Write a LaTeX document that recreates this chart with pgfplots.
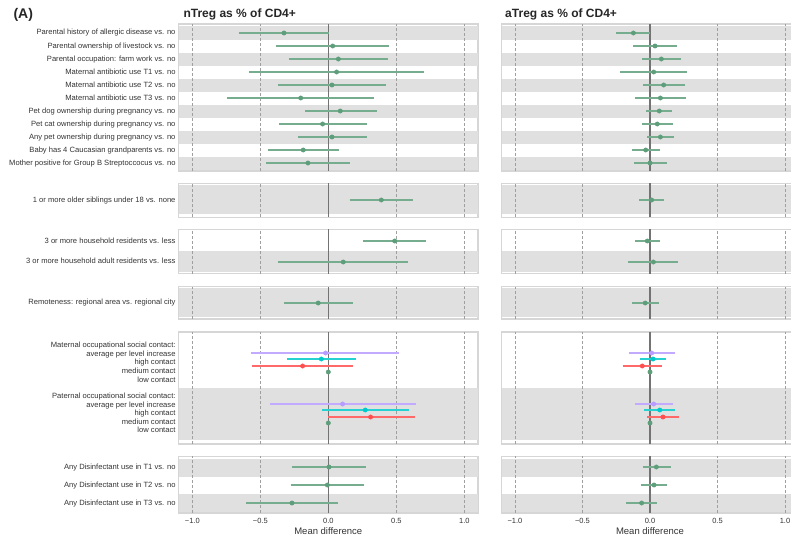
\documentclass[border=0pt]{standalone}
\usepackage{fontspec}
\setmainfont{Liberation Sans}
\usepackage{pgfplots}
\pgfplotsset{compat=1.18}
\usepackage{pgfplotstable}

\definecolor{cgreen}{RGB}{94,158,122}
\definecolor{cpurple}{RGB}{183,155,255}
\definecolor{ccyan}{RGB}{0,201,201}
\definecolor{cred}{RGB}{255,78,78}
\definecolor{bandgray}{RGB}{224,224,224}
\definecolor{framegray}{RGB}{214,214,214}
\definecolor{txt}{RGB}{51,51,51}

% columns: y (pixel row), est, lo, hi
\pgfplotstableread{
y est lo hi
33 -0.326 -0.660 0.007
46 0.032 -0.385 0.444
59 0.074 -0.292 0.436
72 0.061 -0.580 0.700
85 0.027 -0.368 0.424
98 -0.203 -0.743 0.333
111 0.088 -0.169 0.355
124 -0.042 -0.360 0.282
137 0.027 -0.225 0.282
150 -0.184 -0.441 0.076
163 -0.150 -0.456 0.159
}\tLone
\pgfplotstableread{
y est lo hi
33 -0.123 -0.252 0.000
46 0.037 -0.123 0.198
59 0.084 -0.057 0.227
72 0.027 -0.222 0.274
85 0.101 -0.052 0.257
98 0.077 -0.114 0.264
111 0.069 -0.027 0.165
124 0.054 -0.062 0.168
137 0.077 -0.022 0.178
150 -0.032 -0.133 0.072
163 0.000 -0.119 0.123
}\tRone
\pgfplotstableread{
y est lo hi
200 0.390 0.157 0.625
}\tLtwo
\pgfplotstableread{
y est lo hi
200 0.012 -0.079 0.104
}\tRtwo
\pgfplotstableread{
y est lo hi
241 0.488 0.252 0.720
262 0.110 -0.368 0.584
}\tLthree
\pgfplotstableread{
y est lo hi
241 -0.020 -0.111 0.072
262 0.025 -0.163 0.210
}\tRthree
\pgfplotstableread{
y est lo hi
303 -0.074 -0.326 0.179
}\tLfour
\pgfplotstableread{
y est lo hi
303 -0.035 -0.131 0.064
}\tRfour
% occupational social contact: avg (purple), high (cyan), medium (red), low = reference
\pgfplotstableread{
y est lo hi
353 -0.020 -0.566 0.517
404 0.105 -0.426 0.643
}\tLavg
\pgfplotstableread{
y est lo hi
359 -0.051 -0.304 0.203
410 0.272 -0.047 0.596
}\tLhigh
\pgfplotstableread{
y est lo hi
366 -0.189 -0.561 0.184
417 0.311 0.000 0.640
}\tLmed
\pgfplotstableread{
y est lo hi
353 0.012 -0.158 0.188
404 0.027 -0.114 0.168
}\tRavg
\pgfplotstableread{
y est lo hi
359 0.022 -0.074 0.121
410 0.072 -0.042 0.188
}\tRhigh
\pgfplotstableread{
y est lo hi
366 -0.057 -0.202 0.089
417 0.096 -0.022 0.212
}\tRmed
\pgfplotstableread{
y est lo hi
372 0 0 0
423 0 0 0
}\tref
\pgfplotstableread{
y est lo hi
467 0.005 -0.267 0.275
485 -0.007 -0.277 0.265
503 -0.267 -0.605 0.071
}\tLsix
\pgfplotstableread{
y est lo hi
467 0.047 -0.052 0.153
485 0.030 -0.067 0.123
503 -0.062 -0.175 0.052
}\tRsix

\pgfplotsset{
  forest/.style={scale only axis, xmin=-1.1, xmax=1.1, y dir=reverse,
    axis line style={draw=framegray, line width=1.2pt},
    xtick=\empty, ytick=\empty, tick style={draw=none},
    yticklabel style={font=\fontsize{7.6}{8}\selectfont, text=txt, inner sep=0pt, xshift=-3pt,
      text height=5.5pt, text depth=1.5pt},
    xticklabel style={font=\fontsize{7.5}{8}\selectfont, text=txt, anchor=center, yshift=-8pt},
    xlabel style={font=\fontsize{9.5}{10}\selectfont, text=txt, at={(axis description cs:0.5,0)}, anchor=center, yshift=-18.3pt}},
  colL/.style={width=299.2pt},
  colR/.style={width=297pt},
  p1/.style={at={(#1,368pt)}, height=147pt, ymin=24, ymax=171},
  p2/.style={at={(#1,321.7pt)}, height=34pt, ymin=183.3, ymax=217.3},
  p3/.style={at={(#1,265.3pt)}, height=44.4pt, ymin=229.3, ymax=273.7},
  p4/.style={at={(#1,220pt)}, height=32.3pt, ymin=286.7, ymax=319},
  p5/.style={at={(#1,95pt)}, height=112pt, ymin=332, ymax=444},
  p6/.style={at={(#1,26pt)}, height=56.7pt, ymin=456.3, ymax=513,
    xtick={-1,-0.5,0,0.5,1}, xticklabels={−1.0,−0.5,0.0,0.5,1.0}, xlabel={Mean difference}},
}
\newcommand{\band}[2]{\fill[bandgray] (axis cs:-1.1,#1) rectangle (axis cs:1.1,#2);}
\newcommand{\refs}{%
  \draw[gray!75, densely dashed, line width=0.5pt] ({axis cs:-1,0}|-{rel axis cs:0,0}) -- ({axis cs:-1,0}|-{rel axis cs:0,1});
  \draw[gray!75, densely dashed, line width=0.5pt] ({axis cs:-0.5,0}|-{rel axis cs:0,0}) -- ({axis cs:-0.5,0}|-{rel axis cs:0,1});
  \draw[gray!75, densely dashed, line width=0.5pt] ({axis cs:0.5,0}|-{rel axis cs:0,0}) -- ({axis cs:0.5,0}|-{rel axis cs:0,1});
  \draw[gray!75, densely dashed, line width=0.5pt] ({axis cs:1,0}|-{rel axis cs:0,0}) -- ({axis cs:1,0}|-{rel axis cs:0,1});
  \draw[black!55, line width=1.5pt] ({axis cs:0,0}|-{rel axis cs:0,0}) -- ({axis cs:0,0}|-{rel axis cs:0,1});}
\newcommand{\bandsone}{\band{26.5}{39.5}\band{52.5}{65.5}\band{78.5}{91.5}\band{104.5}{117.5}\band{130.5}{143.5}\band{156.5}{169.5}}
% confidence interval as a segment lo..hi, estimate as a dot
\newcommand{\ci}[2]{%
  \addplot[draw=#1!85!white, line width=2pt, -, mark=none,
    quiver={u=\thisrow{hi}-\thisrow{lo}, v=0}] table[x=lo, y=y] {#2};
  \addplot[only marks, mark=*, mark size=2.2pt, draw=#1, fill=#1] table[x=est, y=y] {#2};}

\begin{document}
\begin{tikzpicture}
% ---- left column: nTreg
\begin{axis}[forest, colL, p1=178.7pt,
  ytick={33,46,59,72,85,98,111,124,137,150,163},
  yticklabels={Parental history of allergic disease vs. no,
    Parental ownership of livestock vs. no,
    Parental occupation: farm work vs. no,
    Maternal antibiotic use T1 vs. no,
    Maternal antibiotic use T2 vs. no,
    Maternal antibiotic use T3 vs. no,
    Pet dog ownership during pregnancy vs. no,
    Pet cat ownership during pregnancy vs. no,
    Any pet ownership during pregnancy vs. no,
    Baby has 4 Caucasian grandparents vs. no,
    Mother positive for Group B Streptoccocus vs. no}]
  \bandsone \refs
  \ci{cgreen}{\tLone}
\end{axis}
\begin{axis}[forest, colL, p2=178.7pt, ytick={200},
  yticklabels={1 or more older siblings under 18 vs. none}]
  \band{185}{214.3} \refs
  \ci{cgreen}{\tLtwo}
\end{axis}
\begin{axis}[forest, colL, p3=178.7pt, ytick={241,261.7},
  yticklabels={3 or more household residents vs. less,
    3 or more household adult residents vs. less}]
  \band{251}{271.7} \refs
  \ci{cgreen}{\tLthree}
\end{axis}
\begin{axis}[forest, colL, p4=178.7pt, ytick={302.7},
  yticklabels={Remoteness: regional area vs. regional city}]
  \band{288.3}{316.7} \refs
  \ci{cgreen}{\tLfour}
\end{axis}
\begin{axis}[forest, colL, p5=178.7pt,
  ytick={345.3,354.3,362.7,371.7,380,396.7,405.3,413.3,422,430.7},
  yticklabels={Maternal occupational social contact:, average per level increase,
    high contact, medium contact, low contact,
    Paternal occupational social contact:, average per level increase,
    high contact, medium contact, low contact}]
  \band{388}{440} \refs
  \ci{cpurple}{\tLavg}
  \ci{ccyan}{\tLhigh}
  \ci{cred}{\tLmed}
  \ci{cgreen}{\tref}
\end{axis}
\begin{axis}[forest, colL, p6=178.7pt, ytick={467,485,503},
  yticklabels={Any Disinfectant use in T1 vs. no,
    Any Disinfectant use in T2 vs. no,
    Any Disinfectant use in T3 vs. no}]
  \band{458.5}{476.5}\band{494}{512} \refs
  \ci{cgreen}{\tLsix}
\end{axis}
% ---- right column: aTreg
\begin{axis}[forest, colR, p1=501.5pt]
  \bandsone \refs
  \ci{cgreen}{\tRone}
\end{axis}
\begin{axis}[forest, colR, p2=501.5pt]
  \band{185}{214.3} \refs
  \ci{cgreen}{\tRtwo}
\end{axis}
\begin{axis}[forest, colR, p3=501.5pt]
  \band{251}{271.7} \refs
  \ci{cgreen}{\tRthree}
\end{axis}
\begin{axis}[forest, colR, p4=501.5pt]
  \band{288.3}{316.7} \refs
  \ci{cgreen}{\tRfour}
\end{axis}
\begin{axis}[forest, colR, p5=501.5pt]
  \band{388}{440} \refs
  \ci{cpurple}{\tRavg}
  \ci{ccyan}{\tRhigh}
  \ci{cred}{\tRmed}
  \ci{cgreen}{\tref}
\end{axis}
\begin{axis}[forest, colR, p6=501.5pt]
  \band{458.5}{476.5}\band{494}{512} \refs
  \ci{cgreen}{\tRsix}
\end{axis}
% titles
\node[anchor=base west, font=\fontsize{14}{15}\selectfont\bfseries, text=black!85] at (10pt,520pt) {(A)};
\node[anchor=base west, font=\fontsize{12}{13}\selectfont\bfseries, text=black!85] at (180pt,521.5pt) {nTreg as \% of CD4+};
\node[anchor=base west, font=\fontsize{12}{13}\selectfont\bfseries, text=black!85] at (501.7pt,521.5pt) {aTreg as \% of CD4+};
\pgfresetboundingbox
\useasboundingbox (0pt,0pt) rectangle (791pt,539pt);
\end{tikzpicture}
\end{document}
